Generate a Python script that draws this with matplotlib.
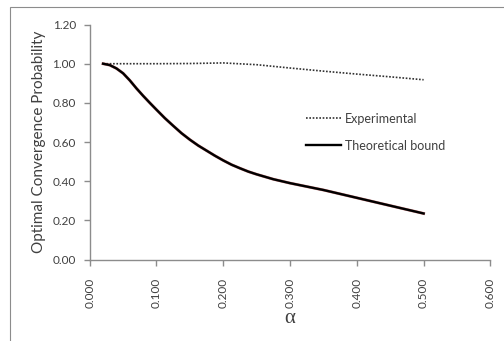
import numpy as np
import matplotlib
matplotlib.use("Agg")
import matplotlib.pyplot as plt
from matplotlib.patches import Rectangle

# values
alpha_exp = [0.02, 0.05, 0.10, 0.15, 0.20, 0.25, 0.30, 0.35, 0.40, 0.45, 0.50]
p_exp = [1.000, 1.000, 1.000, 1.001, 1.004, 0.995, 0.978, 0.962, 0.947, 0.933, 0.918]

alpha_th = [0.02, 0.03, 0.04, 0.05, 0.06, 0.07, 0.08, 0.09, 0.10, 0.1125,
            0.125, 0.1375, 0.15, 0.1625, 0.175, 0.1875, 0.20, 0.2125, 0.225,
            0.2375, 0.25, 0.275, 0.30, 0.35, 0.40, 0.45, 0.50]
p_th = [1.000, 0.993, 0.976, 0.951, 0.915, 0.874, 0.836, 0.800, 0.765, 0.722,
        0.683, 0.645, 0.612, 0.582, 0.556, 0.530, 0.506, 0.484, 0.466,
        0.449, 0.435, 0.410, 0.390, 0.355, 0.315, 0.275, 0.235]

xticks = [0.0, 0.1, 0.2, 0.3, 0.4, 0.5, 0.6]
yticks = [0.0, 0.2, 0.4, 0.6, 0.8, 1.0, 1.2]

plt.rcParams['font.family'] = ['Lato', 'DejaVu Sans']
textcol = '#404040'
axcol = '#8c8c8c'

fig = plt.figure(figsize=(5.04, 3.41), dpi=100)
# chart area border (only left/top visible in the reference crop)
fig.patches.append(Rectangle((10 / 504, -0.05), 1.2, (341 - 7) / 341 + 0.05,
                             transform=fig.transFigure, fill=False,
                             edgecolor='#8c8c8c', linewidth=0.8))

ax = fig.add_axes([0.178, 0.239, 0.795, 0.689])

ax.plot(alpha_exp, p_exp, color='#303030', linewidth=1.2,
        linestyle=(0, (1, 1)), label='Experimental')
ax.plot(alpha_th, p_th, color='#b04848', linewidth=2.1, alpha=0.7,
        solid_joinstyle='round')
ax.plot(alpha_th, p_th, color='black', linewidth=1.7, solid_joinstyle='round',
        label='Theoretical bound')

ax.set_xlim(0, 0.6)
ax.set_ylim(0, 1.2)
ax.set_xticks(xticks)
ax.set_yticks(yticks)
ax.set_xticklabels(['%.3f' % v for v in xticks], rotation=90)
ax.set_yticklabels(['%.2f' % v for v in yticks])

for s in ['top', 'right']:
    ax.spines[s].set_visible(False)
for s in ['left', 'bottom']:
    ax.spines[s].set_color(axcol)
    ax.spines[s].set_linewidth(1.0)

ax.tick_params(axis='both', colors=axcol, labelcolor=textcol, labelsize=8.5,
               length=4, width=1.0)
ax.tick_params(axis='x', pad=9)
ax.tick_params(axis='y', pad=6)

ax.set_ylabel('Optimal Convergence Probability', fontsize=11, color=textcol,
              labelpad=5)
ax.set_xlabel('α', fontsize=15, color=textcol, family='Liberation Serif',
              labelpad=1)

ax.legend(loc='upper left', bbox_to_anchor=(0.54, 0.625), frameon=False,
          fontsize=9, handlelength=2.8, handletextpad=0.3, labelspacing=1.2,
          borderpad=0, borderaxespad=0, labelcolor=textcol)

fig.savefig('out.png', dpi=100)
